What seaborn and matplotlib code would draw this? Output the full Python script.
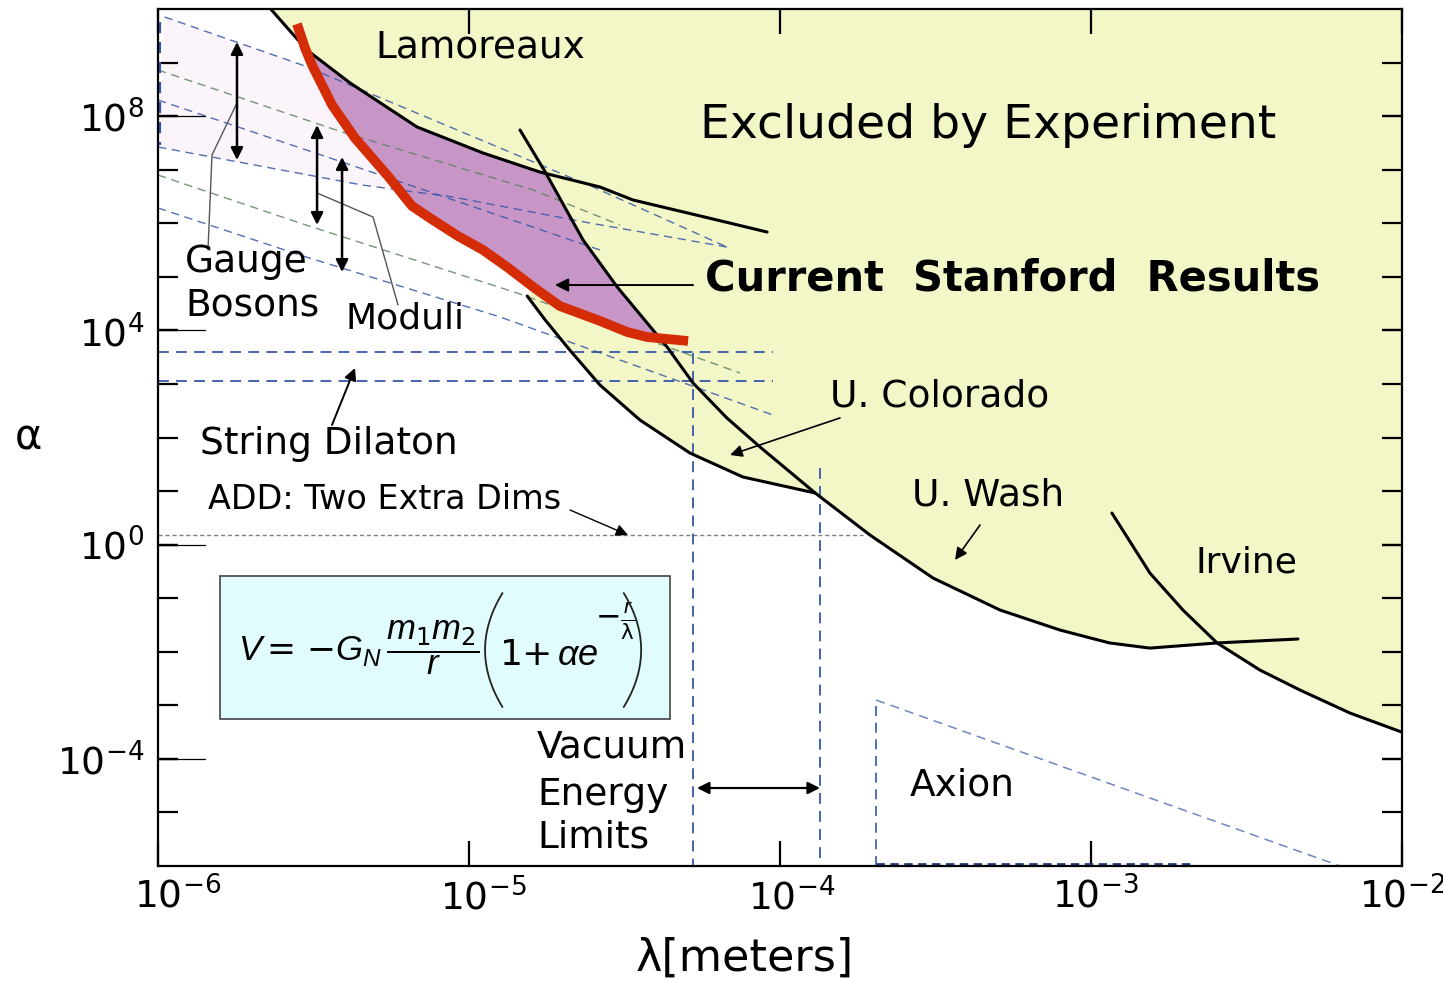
import math
import numpy as np
import seaborn as sns
import matplotlib.pyplot as plt
from matplotlib.patches import Rectangle
from matplotlib.ticker import FixedLocator, FuncFormatter, NullFormatter, NullLocator
import matplotlib.transforms as mtransforms

lam_lamoreaux = [2.29e-6, 3.01e-6, 4.15e-6, 6.81e-6, 1.11e-5, 1.69e-5, 2.64e-5, 3.37e-5, 5.54e-5, 9.10e-5]
alpha_lamoreaux = [1.04e10, 1.72e9, 4.15e8, 6.27e7, 2.05e7, 9.05e6, 4.75e6, 2.72e6, 1.37e6, 6.86e5]

lam_colorado = [1.46e-5, 1.76e-5, 2.33e-5, 3.00e-5, 4.34e-5, 5.26e-5, 6.76e-5, 8.64e-5, 1.30e-4]
alpha_colorado = [5.51e7, 9.05e6, 4.86e5, 6.45e4, 4.89e3, 1.04e3, 231, 66.4, 9.19]

lam_uwash = [1.30e-4, 1.95e-4, 3.11e-4, 5.11e-4, 7.97e-4, 1.15e-3, 1.55e-3, 2.55e-3, 4.64e-3]
alpha_uwash = [9.19, 1.51, 0.238, 0.0601, 0.0254, 0.0146, 0.0117, 0.0146, 0.0173]

lam_lower = [1.54e-5, 1.76e-5, 2.11e-5, 2.64e-5, 3.55e-5, 5.14e-5, 7.61e-5, 1.30e-4]
alpha_lower = [4.38e4, 1.56e4, 4.30e3, 954, 212, 51.3, 18.3, 9.19]

lam_irvine = [1.17e-3, 1.55e-3, 1.98e-3, 2.55e-3, 3.50e-3, 4.71e-3, 6.82e-3, 1.0e-2]
alpha_irvine = [3.89, 0.295, 0.0601, 0.0146, 4.56e-3, 1.93e-3, 7.18e-4, 3.17e-4]

lam_stanford = [2.80e-6, 2.97e-6, 3.13e-6, 3.63e-6, 4.30e-6, 5.49e-6, 6.56e-6, 7.66e-6, 9.22e-6,
                1.11e-5, 1.34e-5, 1.61e-5, 1.96e-5, 2.64e-5, 3.23e-5, 3.74e-5, 5.07e-5]
alpha_stanford = [5.25e9, 1.87e9, 9.00e8, 1.61e8, 3.90e7, 7.62e6, 2.10e6, 1.15e6, 5.78e5,
                  3.17e5, 1.46e5, 6.45e4, 2.85e4, 1.50e4, 9.32e3, 7.52e3, 6.33e3]

# theory predictions (dashed)
lam_gauge_top = [1.05e-6, 2.91e-6, 2.51e-5, 6.76e-5]
alpha_gauge_top = [7.09e9, 9.00e8, 4.75e6, 3.60e5]
lam_gauge_mid = [1.0e-6, 3.91e-6, 2.64e-5]
alpha_gauge_mid = [2.00e8, 1.39e7, 3.17e5]
lam_gauge_low = [1.0e-6, 4.53e-6, 8.89e-6, 2.45e-5, 6.76e-5]
alpha_gauge_low = [2.65e7, 5.18e6, 3.09e6, 1.01e6, 3.60e5]
lam_gauge_bot = [1.0e-6, 2.86e-6, 1.26e-5, 9.51e-5]
alpha_gauge_bot = [1.93e6, 2.55e5, 1.78e4, 263]
lam_moduli_top = [1.0e-6, 3.91e-6, 1.61e-5, 3.06e-5]
alpha_moduli_top = [7.26e8, 5.05e7, 4.17e6, 9.27e5]
lam_moduli_low = [1.0e-6, 2.86e-6, 1.43e-5, 7.45e-5]
alpha_moduli_low = [7.95e6, 1.01e6, 4.98e4, 1.60e3]

dilaton_alpha = [3.94e3, 1.13e3]
dilaton_lam_end = 9.5e-5
add_alpha = 1.51
add_lam_end = 1.85e-4
vacuum_lam = [5.26e-5, 1.347e-4]
vacuum_alpha_top = [3.78e3, 26.9]
axion_lam = [2.04e-4, 6.34e-3, 2.09e-3]
axion_alpha_top = 1.255e-3

x_ticks = [1e-6, 1e-5, 1e-4, 1e-3, 1e-2]
x_label_shift = [0.20, 0.14, 0.12, 0.05, 0.0]   # inches, labels sit a bit right of the ticks
y_labelled = [1e-4, 1e0, 1e4, 1e8]
y_decades = [10.0 ** k for k in range(-5, 10)]

YELLOW = '#F3F6C7'
PURPLE = '#C795C6'
PINK = '#FBF4FA'
RED = '#D42C06'
BLUE = '#3557A8'
GREEN = '#5E8463'

sns.set_style('ticks')
plt.rcParams['font.family'] = ['DejaVu Sans']
plt.rcParams.update({
    'text.color': 'black', 'axes.labelcolor': 'black',
    'xtick.color': 'black', 'ytick.color': 'black',
    'mathtext.default': 'regular', 'mathtext.fontset': 'custom',
    'mathtext.it': 'Liberation Sans:italic', 'mathtext.rm': 'Liberation Sans',
    'mathtext.sf': 'Liberation Sans',
})

fig = plt.figure(figsize=(14.43, 9.82), dpi=100)
ax = fig.add_axes([158 / 1443, 116 / 982, 1243.6 / 1443, 857 / 982])
ax.set_axisbelow(False)
ax.set_xscale('log')
ax.set_yscale('log')
ax.set_xlim(1e-6, 1e-2)
ax.set_ylim(1e-6, 1e10)

# pink band of gauge boson predictions
pink_x = lam_gauge_top + lam_gauge_low[::-1]
pink_y = alpha_gauge_top + alpha_gauge_low[::-1]
ax.fill(pink_x, pink_y, color=PINK, lw=0, zorder=1)

# excluded region
yel_x = ([lam_lamoreaux[0], 1e-2] + lam_irvine[7:2:-1] + lam_uwash[6::-1]
         + lam_lower[6::-1] + lam_stanford[11:0:-1])
yel_y = ([alpha_lamoreaux[0], alpha_lamoreaux[0]] + alpha_irvine[7:2:-1] + alpha_uwash[6::-1]
         + alpha_lower[6::-1] + alpha_stanford[11:0:-1])
ax.fill(yel_x, yel_y, color=YELLOW, lw=0, zorder=1.5)

# new Stanford region
pur_x = lam_stanford[1:16] + lam_colorado[4:0:-1] + lam_lamoreaux[4:0:-1]
pur_y = alpha_stanford[1:16] + alpha_colorado[4:0:-1] + alpha_lamoreaux[4:0:-1]
ax.fill(pur_x, pur_y, color=PURPLE, lw=0, zorder=2)

dash = (0, (6, 4))
theory = [(lam_gauge_top, alpha_gauge_top, BLUE), (lam_gauge_mid, alpha_gauge_mid, BLUE),
          (lam_gauge_low, alpha_gauge_low, BLUE), (lam_gauge_bot, alpha_gauge_bot, BLUE),
          (lam_moduli_top, alpha_moduli_top, GREEN), (lam_moduli_low, alpha_moduli_low, GREEN)]
for lx, ly, c in theory:
    ax.plot(lx, ly, color=c, lw=1.0, ls=dash, alpha=0.85, zorder=3)
ax.plot([1.015e-6, 1.015e-6], [5.7e9, 2.9e7], color=BLUE, lw=1.6, ls=(0, (5, 4)), zorder=3)

# dilaton, ADD, vacuum energy, axion
for a in dilaton_alpha:
    ax.plot([1e-6, dilaton_lam_end], [a, a], color=BLUE, lw=1.3, ls=dash, zorder=3)
ax.plot([1e-6, add_lam_end], [add_alpha, add_alpha], color='#808080', lw=1.0, ls=(0, (3, 2)), zorder=3)
for lv, av in zip(vacuum_lam, vacuum_alpha_top):
    ax.plot([lv, lv], [av, 1e-6], color=BLUE, lw=1.3, ls=dash, zorder=3)
ax.plot([axion_lam[0], axion_lam[0]], [1e-6, axion_alpha_top], color=BLUE, lw=1.2, ls=dash, zorder=3)
ax.plot([axion_lam[0], axion_lam[1]], [axion_alpha_top, 1e-6], color='#6F86C0', lw=1.1, ls=dash, zorder=3)
ax.plot([axion_lam[0], axion_lam[2]], [1.1e-6, 1.1e-6], color='#1F3A80', lw=2.0, ls=(0, (3, 2)), zorder=3)

# experimental curves
for lx, ly in [(lam_lamoreaux, alpha_lamoreaux), (lam_colorado + lam_uwash, alpha_colorado + alpha_uwash),
               (lam_lower, alpha_lower), (lam_irvine, alpha_irvine)]:
    sns.lineplot(x=lx, y=ly, sort=False, estimator=None, color='black', lw=2.2, ax=ax,
                 legend=False, zorder=4, solid_joinstyle='round')
sns.lineplot(x=lam_stanford, y=alpha_stanford, sort=False, estimator=None, color=RED, lw=7,
             ax=ax, legend=False, zorder=5, solid_joinstyle='round', solid_capstyle='butt')

# axes styling
for s in ax.spines.values():
    s.set_linewidth(1.6)
    s.set_color('black')
    s.set_zorder(8)
ax.xaxis.set_major_locator(FixedLocator(x_ticks))
ax.xaxis.set_minor_locator(NullLocator())
ax.yaxis.set_major_locator(FixedLocator(y_labelled))
ax.yaxis.set_minor_locator(FixedLocator(y_decades))
ax.yaxis.set_minor_formatter(NullFormatter())
ax.yaxis.remove_overlapping_locs = False
fmt = FuncFormatter(lambda v, p: r'$10^{%d}$' % round(math.log10(v)))
ax.xaxis.set_major_formatter(fmt)
ax.yaxis.set_major_formatter(fmt)
ax.tick_params(axis='x', which='major', direction='in', length=18, width=1.6, top=True,
               labelsize=27, pad=8)
ax.tick_params(axis='y', which='both', direction='in', length=14.5, width=1.6, right=True,
               labelsize=27, pad=10)
for lbl, sh in zip(ax.get_xticklabels(), x_label_shift):
    lbl.set_transform(lbl.get_transform() + mtransforms.ScaledTranslation(sh, 0, fig.dpi_scale_trans))
for v in y_labelled:
    ax.plot([0, 0.038], [v, v], transform=ax.get_yaxis_transform(), color='black', lw=0.9, zorder=4)

ax.set_xlabel('λ[meters]', fontsize=32)
ax.xaxis.set_label_coords(0.472, -0.107)
ax.xaxis.label.set_va('center')
ax.set_ylabel('α', fontsize=30, rotation=0)
ax.yaxis.set_label_coords(-0.1045, 0.50)
ax.yaxis.label.set_va('center')

# labels
T = ax.transAxes
kw = dict(transform=T, va='center', ha='left', zorder=7)
ax.text(0.1745, 0.9545, 'Lamoreaux', fontsize=27, **kw)
ax.text(0.4358, 0.8646, 'Excluded by Experiment', fontsize=34, **kw)
ax.text(0.4399, 0.6861, 'Current  Stanford  Results', fontsize=30, fontweight='bold', **kw)
ax.text(0.5404, 0.5473, 'U. Colorado', fontsize=27, **kw)
ax.text(0.6063, 0.4329, 'U. Wash', fontsize=27, **kw)
ax.text(0.8339, 0.3547, 'Irvine', fontsize=26, **kw)
ax.text(0.0217, 0.7048, 'Gauge', fontsize=27, **kw)
ax.text(0.0217, 0.6546, 'Bosons', fontsize=27, **kw)
ax.text(0.1504, 0.6394, 'Moduli', fontsize=26, **kw)
ax.text(0.0338, 0.4924, 'String Dilaton', fontsize=27, **kw)
ax.text(0.0402, 0.4271, 'ADD: Two Extra Dims', fontsize=24, **kw)
ax.text(0.3048, 0.1377, 'Vacuum', fontsize=27, **kw)
ax.text(0.3048, 0.0828, 'Energy', fontsize=27, **kw)
ax.text(0.3048, 0.0327, 'Limits', fontsize=27, **kw)
ax.text(0.6047, 0.0945, 'Axion', fontsize=27, **kw)

# arrows
def arrow(tail, head, style='-|>', lw=1.4, ms=18):
    ax.annotate('', xy=head, xytext=tail, xycoords=T, textcoords=T, zorder=7,
                arrowprops=dict(arrowstyle=style, color='black', lw=lw, mutation_scale=ms,
                                shrinkA=0, shrinkB=0))

arrow((0.0635, 0.9615), (0.0635, 0.8238), '<|-|>', 1.8)
arrow((0.1279, 0.8646), (0.1279, 0.7480), '<|-|>', 1.8)
arrow((0.1480, 0.8273), (0.1480, 0.6931), '<|-|>', 1.8)
arrow((0.4302, 0.6779), (0.3192, 0.6779), '-|>', 1.4, 20)
arrow((0.1399, 0.5146), (0.1584, 0.5811))
arrow((0.3313, 0.4154), (0.3779, 0.3862), '-|>', 1.0)
arrow((0.5484, 0.5228), (0.4600, 0.4796), '-|>', 1.2)
arrow((0.6610, 0.3979), (0.6409, 0.3571), '-|>', 1.2)
arrow((0.4334, 0.0910), (0.5323, 0.0910), '<|-|>', 1.6)
ax.plot([0.0635, 0.0434, 0.0402], [0.8903, 0.8296, 0.7188], transform=T, color='#555555', lw=1.0, zorder=6)
ax.plot([0.1279, 0.1729, 0.1930], [0.7853, 0.7573, 0.6546], transform=T, color='#555555', lw=1.0, zorder=6)

# formula box
ax.add_patch(Rectangle((0.0499, 0.1715), 0.3619, 0.1669, transform=T, facecolor='#E1FCFC',
                       edgecolor='#444444', lw=1.2, zorder=6))
ax.text(0.0643, 0.2544,
        r'$\mathit{V}{=}\,{-}\mathit{G}_{\mathit{N}}\,\dfrac{\mathit{m}_1\mathit{m}_2}{\mathit{r}}$',
        transform=T, ha='left', va='center', fontsize=25, zorder=7)
ax.text(0.2745, 0.2345, r'$1{+}\,\mathit{\alpha e}$',
        transform=T, ha='left', va='baseline', fontsize=26, zorder=7)
ax.text(0.3515, 0.2860, r'${-}\frac{\mathit{r}}{\lambda}$',
        transform=T, ha='left', va='center', fontsize=22, zorder=7)
t = np.linspace(-1, 1, 40)
ax.plot(0.2630 + 0.0140 * t ** 2, 0.252 + 0.0665 * t, transform=T, color='#222222', lw=1.3, zorder=7)
ax.plot(0.3885 - 0.0140 * t ** 2, 0.252 + 0.0665 * t, transform=T, color='#222222', lw=1.3, zorder=7)

fig.savefig('out.png', dpi=100)
